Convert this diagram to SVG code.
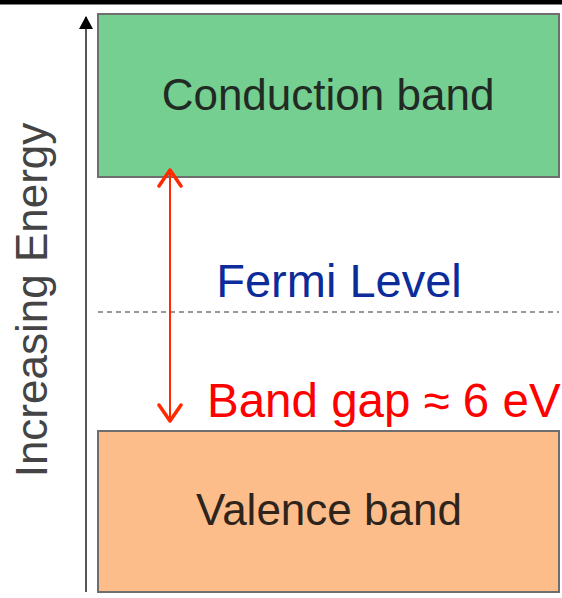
<svg xmlns="http://www.w3.org/2000/svg" width="562" height="598" viewBox="0 0 562 598">
<style>
.band{stroke:#6e6e6e;stroke-width:2}
.lbl{font-family:"Liberation Sans",Arial,sans-serif;text-anchor:middle}
</style>
<defs>
<marker id="ax" viewBox="0 0 13 14" refX="12" refY="7" markerWidth="13" markerHeight="14" markerUnits="userSpaceOnUse" orient="auto">
<path d="M0,0 L13,7 L0,14 Z" fill="#000"/>
</marker>
<marker id="chev" viewBox="0 0 20 26" refX="18" refY="13" markerWidth="20" markerHeight="26" markerUnits="userSpaceOnUse" orient="auto-start-reverse">
<path d="M2,2 L18,13 L2,24" fill="none" stroke="#ff2a00" stroke-width="3.5" stroke-linecap="round" stroke-linejoin="round"/>
</marker>
</defs>
<rect x="0" y="0" width="562" height="598" fill="#fff"/>
<rect x="0" y="0" width="562" height="4.5" fill="#000"/>
<g id="conduction">
<rect class="band" x="98" y="14" width="461" height="163" fill="#74cf91"/>
<text class="lbl" x="328" y="110" font-size="44" fill="#222a24">Conduction band</text>
</g>
<g id="valence">
<rect class="band" x="98" y="431" width="461" height="161" fill="#fcbd8b"/>
<text class="lbl" x="329" y="525" font-size="44" fill="#2e241c">Valence band</text>
</g>
<g id="axis">
<text class="lbl" transform="translate(47,300) rotate(-90)" font-size="44" fill="#444">Increasing Energy</text>
</g>
<g id="fermi">
<text class="lbl" x="339" y="297" font-size="47" fill="#0c2c9c">Fermi Level</text>
</g>
<g id="gap">
<text x="207" y="417" font-family="Liberation Sans,Arial,sans-serif" font-size="47.5" fill="#ff0000">Band gap ≈ 6 eV</text>
</g>
<g id="connectors">
<line x1="86" y1="592" x2="86" y2="17" stroke="#555" stroke-width="2" marker-end="url(#ax)"/>
<line x1="98" y1="312" x2="559" y2="312" stroke="#999" stroke-width="2" stroke-dasharray="5,4"/>
<line x1="170" y1="170" x2="170" y2="421" stroke="#ff2a00" stroke-width="2" marker-start="url(#chev)" marker-end="url(#chev)"/>
</g>
</svg>
